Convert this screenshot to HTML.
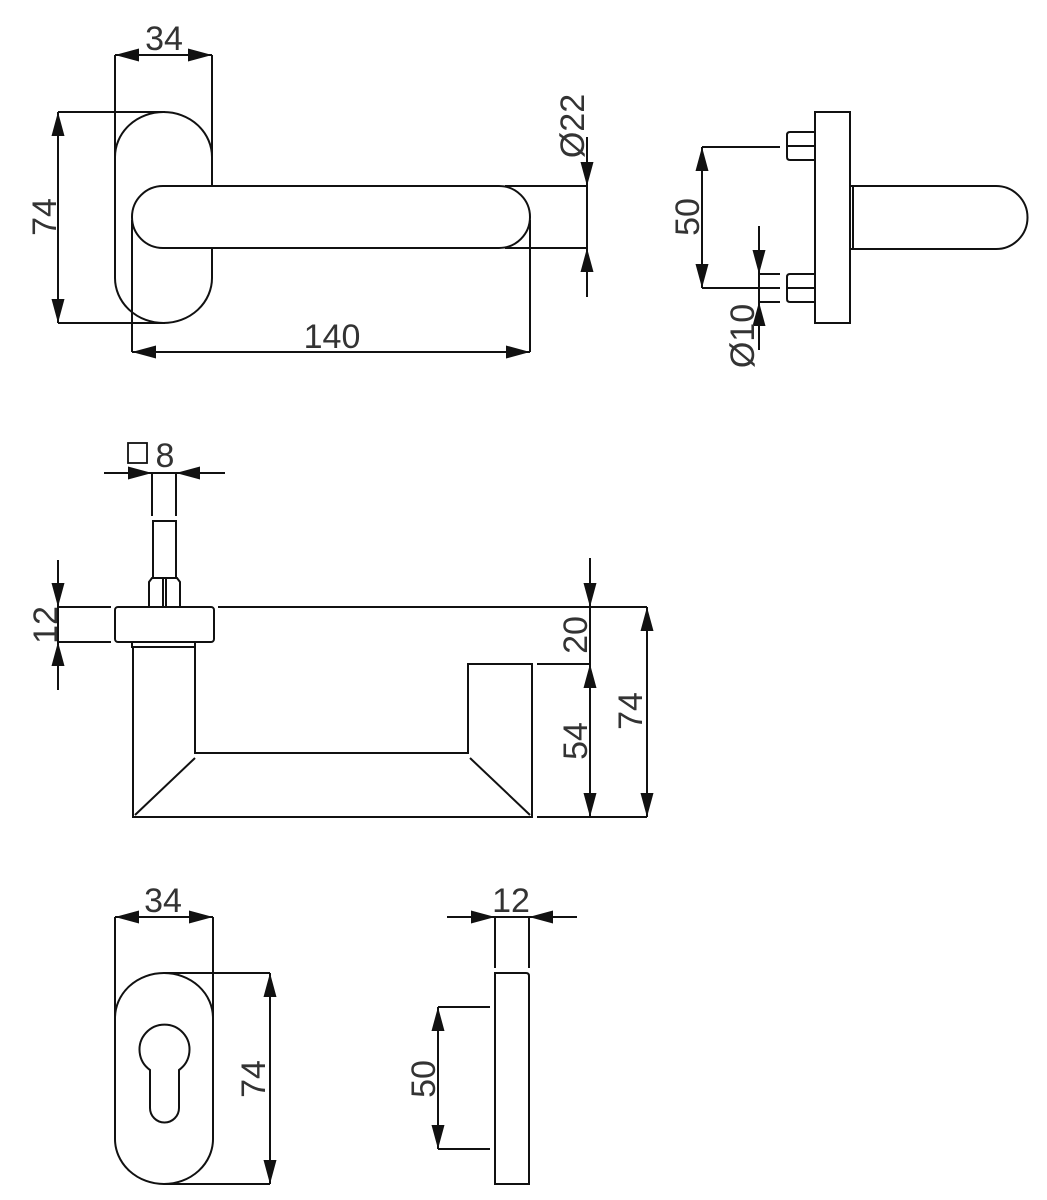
<!DOCTYPE html>
<html><head><meta charset="utf-8"><style>
html,body{margin:0;padding:0;background:#fff}
svg{display:block}
text{font-family:"Liberation Sans",Arial,sans-serif;font-size:34px;fill:#333}
</style></head><body>
<svg width="1047" height="1200" viewBox="0 0 1047 1200" xmlns="http://www.w3.org/2000/svg">
<defs>
<marker id="a" markerUnits="userSpaceOnUse" markerWidth="24" markerHeight="13" refX="24" refY="6.5" orient="auto"><path d="M0,0 L24,6.5 L0,13 z" fill="#111"/></marker>
<marker id="b" markerUnits="userSpaceOnUse" markerWidth="24" markerHeight="13" refX="24" refY="6.5" orient="auto-start-reverse"><path d="M0,0 L24,6.5 L0,13 z" fill="#111"/></marker>
</defs>
<g stroke="#111" stroke-width="2" fill="none">
<!-- TOP LEFT -->
<path d="M115,157 A48.5,45 0 0 1 212,157 L212,278 A48.5,45 0 0 1 115,278 Z" fill="#fff"/>
<path d="M163,186 L499,186 A31,31 0 0 1 499,248 L163,248 A31,31 0 0 1 163,186 Z" fill="#fff"/>
<line x1="115" y1="55" x2="115" y2="160"/>
<line x1="212" y1="55" x2="212" y2="160"/>
<line x1="115" y1="55" x2="212" y2="55" marker-start="url(#b)" marker-end="url(#b)"/>
<line x1="58" y1="112" x2="165" y2="112"/>
<line x1="58" y1="323" x2="165" y2="323"/>
<line x1="58" y1="112" x2="58" y2="323" marker-start="url(#b)" marker-end="url(#b)"/>
<line x1="505" y1="186" x2="587" y2="186"/>
<line x1="505" y1="248" x2="587" y2="248"/>
<line x1="587" y1="137" x2="587" y2="186" marker-end="url(#a)"/>
<line x1="587" y1="297" x2="587" y2="248" marker-end="url(#a)"/>
<line x1="587" y1="186" x2="587" y2="248"/>
<line x1="132" y1="220" x2="132" y2="352"/>
<line x1="530" y1="220" x2="530" y2="352"/>
<line x1="132" y1="352" x2="530" y2="352" marker-start="url(#b)" marker-end="url(#b)"/>
<!-- TOP RIGHT -->
<rect x="815" y="112" width="35" height="211" fill="#fff"/>
<path d="M815,132 L790,132 Q787,132 787,135 L787,157 Q787,160 790,160 L815,160"/>
<path d="M815,274 L790,274 Q787,274 787,277 L787,299 Q787,302 790,302 L815,302"/>
<line x1="787" y1="146" x2="815" y2="146"/>
<line x1="787" y1="288" x2="815" y2="288"/>
<path d="M850,186 L996,186 A31.5,31.5 0 0 1 996,249 L850,249"/>
<line x1="853" y1="187" x2="853" y2="248"/>
<line x1="702" y1="147" x2="780" y2="147"/>
<line x1="702" y1="288" x2="780" y2="288"/>
<line x1="702" y1="147" x2="702" y2="288" marker-start="url(#b)" marker-end="url(#b)"/>
<line x1="759" y1="274" x2="780" y2="274"/>
<line x1="759" y1="302" x2="780" y2="302"/>
<line x1="759" y1="226" x2="759" y2="274" marker-end="url(#a)"/>
<line x1="759" y1="350" x2="759" y2="302" marker-end="url(#a)"/>
<line x1="759" y1="274" x2="759" y2="302"/>
<!-- MIDDLE -->
<rect x="128" y="443" width="19" height="20" stroke-width="1.8"/>
<line x1="104" y1="473" x2="152" y2="473" marker-end="url(#a)"/>
<line x1="225" y1="473" x2="176" y2="473" marker-end="url(#a)"/>
<line x1="152" y1="473" x2="176" y2="473"/>
<line x1="152" y1="473" x2="152" y2="516"/>
<line x1="176" y1="473" x2="176" y2="516"/>
<rect x="153" y="521" width="23" height="57"/>
<path d="M149,607 L149,582 L152,578 L177,578 L180,582 L180,607"/>
<line x1="163" y1="578" x2="163" y2="607"/>
<line x1="166" y1="578" x2="166" y2="607"/>
<rect x="115" y="607" width="99" height="35" rx="3" fill="#fff"/>
<path d="M132,642 L132,647 L195,647 L195,642"/>
<path d="M133,647 L133,817 L532,817 L532,664 L468,664 L468,753 L195,753 L195,647"/>
<line x1="195" y1="758" x2="135" y2="815"/>
<line x1="470" y1="758" x2="530" y2="815"/>
<line x1="218" y1="607" x2="647" y2="607"/>
<line x1="58" y1="607" x2="111" y2="607"/>
<line x1="58" y1="642" x2="111" y2="642"/>
<line x1="58" y1="560" x2="58" y2="607" marker-end="url(#a)"/>
<line x1="58" y1="690" x2="58" y2="642" marker-end="url(#a)"/>
<line x1="58" y1="607" x2="58" y2="642"/>
<line x1="590" y1="558" x2="590" y2="607" marker-end="url(#a)"/>
<line x1="590" y1="607" x2="590" y2="664"/>
<line x1="590" y1="664" x2="590" y2="817" marker-start="url(#b)" marker-end="url(#b)"/>
<line x1="537" y1="664" x2="590" y2="664"/>
<line x1="537" y1="817" x2="647" y2="817"/>
<line x1="647" y1="607" x2="647" y2="817" marker-start="url(#b)" marker-end="url(#b)"/>
<!-- BOTTOM LEFT -->
<path d="M115,1018 A49,45 0 0 1 213,1018 L213,1139 A49,45 0 0 1 115,1139 Z"/>
<path d="M150,1070 A25,25 0 1 1 179,1070 L179,1108 A14.5,14.5 0 0 1 150,1108 Z"/>
<line x1="115" y1="917" x2="115" y2="1020"/>
<line x1="213" y1="917" x2="213" y2="1020"/>
<line x1="115" y1="917" x2="213" y2="917" marker-start="url(#b)" marker-end="url(#b)"/>
<line x1="164" y1="973" x2="270" y2="973"/>
<line x1="164" y1="1184" x2="270" y2="1184"/>
<line x1="270" y1="973" x2="270" y2="1184" marker-start="url(#b)" marker-end="url(#b)"/>
<!-- BOTTOM RIGHT -->
<path d="M495,1184 L495,973 L526,973 Q529,973 529,976 L529,1184 Z"/>
<line x1="495" y1="917" x2="495" y2="968"/>
<line x1="529" y1="917" x2="529" y2="968"/>
<line x1="447" y1="917" x2="495" y2="917" marker-end="url(#a)"/>
<line x1="577" y1="917" x2="529" y2="917" marker-end="url(#a)"/>
<line x1="495" y1="917" x2="529" y2="917"/>
<line x1="438" y1="1007" x2="490" y2="1007"/>
<line x1="438" y1="1149" x2="490" y2="1149"/>
<line x1="438" y1="1007" x2="438" y2="1149" marker-start="url(#b)" marker-end="url(#b)"/>
</g>
<g text-anchor="middle">
<text x="164" y="50">34</text>
<text x="56" y="217" transform="rotate(-90 56 217)">74</text>
<text x="584" y="126" transform="rotate(-90 584 126)">Ø22</text>
<text x="332" y="348">140</text>
<text x="699" y="217" transform="rotate(-90 699 217)">50</text>
<text x="754" y="336" transform="rotate(-90 754 336)">Ø10</text>
<text x="165" y="467">8</text>
<text x="57" y="625" transform="rotate(-90 57 625)">12</text>
<text x="587" y="635" transform="rotate(-90 587 635)">20</text>
<text x="587" y="741" transform="rotate(-90 587 741)">54</text>
<text x="642" y="711" transform="rotate(-90 642 711)">74</text>
<text x="163" y="912">34</text>
<text x="265" y="1079" transform="rotate(-90 265 1079)">74</text>
<text x="511" y="912">12</text>
<text x="435" y="1079" transform="rotate(-90 435 1079)">50</text>
</g>
</svg>
</body></html>
